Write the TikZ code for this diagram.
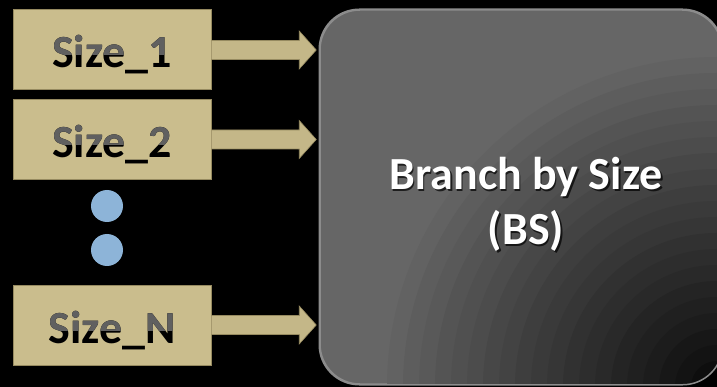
\documentclass[tikz,border=0pt]{standalone}
\usepackage{fontspec}
\setmainfont{Carlito}
\usetikzlibrary{calc}
\definecolor{boxtan}{RGB}{202,189,141}
\definecolor{boxedge}{RGB}{150,138,96}
\definecolor{arrowtan}{RGB}{196,183,136}
\definecolor{bsgray}{RGB}{102,102,102}
\definecolor{bsedge}{RGB}{140,140,140}
\definecolor{dotblue}{RGB}{141,180,216}
\definecolor{lblgray}{RGB}{96,96,96}
\begin{document}
\begin{tikzpicture}[x=1pt,y=-1pt,
  sizebox/.style={draw=boxedge, line width=1pt, fill=boxtan, minimum width=198pt, minimum height=80pt, inner sep=0pt},
  lbl/.style={font=\bfseries\fontsize{46}{54}\selectfont, text=black, inner sep=0pt, anchor=base},
  bigtxt/.style={font=\bfseries\fontsize{46}{54}\selectfont, inner sep=0pt, anchor=base},
  dotc/.style={circle, fill=dotblue, minimum size=32pt, inner sep=0pt},
  connfill/.style={fill=arrowtan, draw=boxedge, line width=0.6pt},
  bsbox/.style={draw=bsedge, line width=1.5pt, fill=bsgray, rounded corners=40pt,
    minimum width=402pt, minimum height=374pt, inner sep=0pt}]
\useasboundingbox (0,0) rectangle (717,387);
\fill[black] (0,0) rectangle (717,387);

% big block
\node[bsbox] (bs) at (521,197) {};
\begin{scope}
  \clip[rounded corners=40pt] (bs.north west) rectangle (bs.south east);
  \foreach \i in {0,...,19}{
    \pgfmathsetmacro{\rr}{330-16*\i}
    \pgfmathsetmacro{\kk}{4.3*(\i+1)}
    \fill[black!\kk!bsgray] (717,387) circle (\rr pt);
  }
\end{scope}
\draw[bsedge, line width=1.5pt, rounded corners=40pt] (bs.north west) rectangle (bs.south east);

% input boxes
\node[sizebox] (s1) at (112,50) {};
\node[sizebox] (s2) at (112,139.5) {};
\node[sizebox] (sn) at (112,325) {};

\foreach \b/\t in {s1/{Size\_1}, s2/{Size\_2}, sn/{Size\_N}}{
  \node[lbl] (\b t) at ($(\b.center)+(0,18)$) {\t};
  \begin{scope}
    \clip (\b.north west) rectangle ($(\b.east)+(0,5)$);
    \node[lbl, text=lblgray] (\b g) at (\b t.base) {\t};
  \end{scope}
  \fill[connfill] let \p1=(\b.east), \p2=(bs.west) in
    (\x1,\y1+9.5pt) -- (\x2-20pt,\y1+9.5pt) -- (\x2-20pt,\y1+19pt) -- (\x2-3pt,\y1)
    -- (\x2-20pt,\y1-19pt) -- (\x2-20pt,\y1-9.5pt) -- (\x1,\y1-9.5pt);
}

% dots
\node[dotc] (d1) at (107,206) {};
\node[dotc] (d2) at (107,250) {};

% label of big block
\node[bigtxt, text=black, opacity=0.7] (bt1s) at (527.5,191.5) {Branch by Size};
\node[bigtxt, text=black, opacity=0.7] (bt2s) at (527.5,246.5) {(BS)};
\node[bigtxt, text=white] (bt1) at (526,190) {Branch by Size};
\node[bigtxt, text=white] (bt2) at (526,245) {(BS)};
\end{tikzpicture}
\end{document}
